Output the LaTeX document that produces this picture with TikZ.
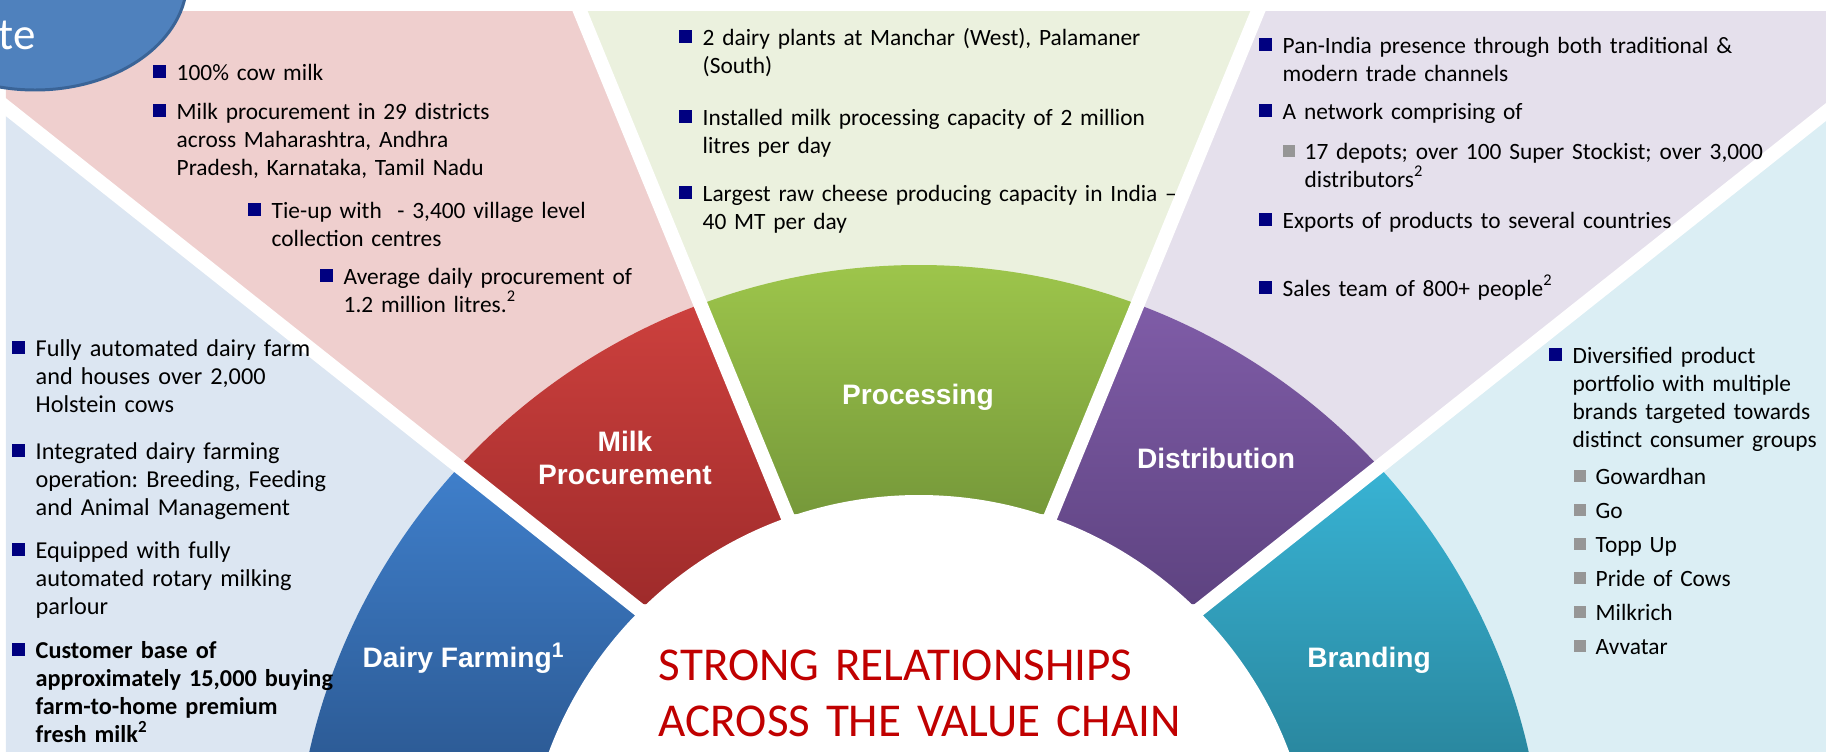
\documentclass[tikz,border=0pt]{standalone}
\usepackage{fontspec}
\setmainfont{Carlito}
\newfontfamily\segfont{Liberation Sans}
\usetikzlibrary{positioning}
\frenchspacing

\definecolor{bgblue}{HTML}{DCE6F2}
\definecolor{bgpink}{HTML}{EFCFCE}
\definecolor{bggreen}{HTML}{EBF1DE}
\definecolor{bglilac}{HTML}{E5E0EC}
\definecolor{bgteal}{HTML}{DBEEF4}
\definecolor{farmtop}{HTML}{3F7FCB}
\definecolor{farmbot}{HTML}{2D5C97}
\definecolor{milktop}{HTML}{CC403D}
\definecolor{milkbot}{HTML}{9F2B2B}
\definecolor{proctop}{HTML}{9DC54B}
\definecolor{procbot}{HTML}{76993A}
\definecolor{disttop}{HTML}{7F5CA7}
\definecolor{distbot}{HTML}{5E4381}
\definecolor{brandtop}{HTML}{38B3D4}
\definecolor{brandbot}{HTML}{2A88A0}
\definecolor{navy}{HTML}{000080}
\definecolor{subgray}{HTML}{969696}
\definecolor{titlered}{HTML}{C00000}
\definecolor{capblue}{HTML}{4F81BD}
\definecolor{capline}{HTML}{3A6497}

\newcommand{\txtsize}{6.65}
\tikzstyle{txt}=[anchor=base west, inner sep=0pt, text width=6cm, align=left,
  font=\fontsize{\txtsize}{8.05}\selectfont]
\tikzstyle{seglabel}=[anchor=base, inner sep=0pt, text=white,
  font=\segfont\bfseries\fontsize{8}{9.4}\selectfont]
\tikzstyle{gap}=[draw=white, line width=0.14cm]
\newcommand{\bpoint}[3]{\node[txt] (#1) at (#2) {#3};
  \fill[navy] ([shift={(-23,-15)}]#1.base west) rectangle +(13,13);}
\newcommand{\spoint}[3]{\node[txt] (#1) at (#2) {#3};
  \fill[subgray] ([shift={(-21,-14)}]#1.base west) rectangle +(12,12);}
\newcommand{\segment}[5]{%
  \begin{scope}
    \clip #1;
    \clip (c) circle[radius=625];
    \shade[top color=#4, bottom color=#5] (0,#2) rectangle (1826,#3);
  \end{scope}}

\begin{document}
\begin{tikzpicture}[x=0.01cm, y=-0.01cm]
\useasboundingbox (0,0) rectangle (1826,754);
% centre of the fan and the gap lines
\coordinate (c) at (919,890);
\coordinate (a0) at (-20,86.6);
\coordinate (a1) at (700,658);
\coordinate (ab) at (915.7,828.7);
\coordinate (b0) at (575.5,0);
\coordinate (b1) at (800,547);
\coordinate (bc) at (919,836.4);
\coordinate (c0) at (1262.5,0);
\coordinate (c1) at (1038,547);
\coordinate (cd) at (922.3,828.7);
\coordinate (d0) at (1858,86.6);
\coordinate (d1) at (1138,658);

% background wedges
\begin{scope}
\clip (6,11) rectangle (1826,752);
\fill[bgblue] (a0) -- (ab) -- (915.7,1000) -- (-20,1000) -- cycle;
\fill[bgpink] (-20,0) -- (b0) -- (ab) -- (a0) -- cycle;
\fill[bggreen] (b0) -- (c0) -- (bc) -- cycle;
\fill[bglilac] (c0) -- (1858,0) -- (d0) -- (cd) -- cycle;
\fill[bgteal] (d0) -- (cd) -- (922.3,1000) -- (1858,1000) -- cycle;
\end{scope}

% value chain segments
\segment{(a0) -- (ab) -- (915.7,1000) -- (-20,1000) -- cycle}{468}{752}{farmtop}{farmbot}
\segment{(-20,0) -- (b0) -- (ab) -- (a0) -- cycle}{306}{603}{milktop}{milkbot}
\segment{(b0) -- (c0) -- (bc) -- cycle}{265}{513}{proctop}{procbot}
\segment{(c0) -- (1858,0) -- (d0) -- (cd) -- cycle}{306}{603}{disttop}{distbot}
\segment{(d0) -- (cd) -- (922.3,1000) -- (1858,1000) -- cycle}{468}{752}{brandtop}{brandbot}
\fill[white] (c) circle[radius=395];
\fill[white] (0,752) rectangle (1826,760);
\draw[gap] (a0) -- (a1);
\draw[gap] (b0) -- (b1);
\draw[gap] (c0) -- (c1);
\draw[gap] (d0) -- (d1);

% segment labels
\node[seglabel] (farm) at (464,667) {Dairy Farming\textsuperscript{\fontsize{6}{6}\selectfont 1}};
\node[seglabel] (milk) at (625,451) {Milk};
\node[seglabel] (procure) at (625,484) {Procurement};
\node[seglabel] (process) at (918,404) {Processing};
\node[seglabel] (distrib) at (1216,468) {Distribution};
\node[seglabel] (brand) at (1369,667) {Branding};

% milk procurement
\bpoint{pk1}{176,80}{100\% cow milk}
\bpoint{pk2}{176,119}{Milk procurement in 29 districts\\across Maharashtra, Andhra\\Pradesh, Karnataka, Tamil Nadu}
\bpoint{pk3}{271,218}{Tie-up with \ - 3,400 village level\\collection centres}
\bpoint{pk4}{343,284}{Average daily procurement of\\1.2 million litres.\textsuperscript{2}}

% processing
\bpoint{pr1}{702,45}{2 dairy plants at Manchar (West), Palamaner\\(South)}
\bpoint{pr2}{702,125}{Installed milk processing capacity of 2 million\\litres per day}
\bpoint{pr3}{702,201}{Largest raw cheese producing capacity in India --\\40 MT per day}

% distribution
\bpoint{ds1}{1282,53}{Pan-India presence through both traditional \&\\modern trade channels}
\bpoint{ds2}{1282,119}{A network comprising of}
\spoint{ds3}{1304,159}{17 depots; over 100 Super Stockist; over 3,000\\distributors\textsuperscript{2}}
\bpoint{ds4}{1282,228}{Exports of products to several countries}
\bpoint{ds5}{1282,296}{Sales team of 800+ people\textsuperscript{2}}

% dairy farming
\begin{scope}
\renewcommand{\txtsize}{6.9}
\bpoint{df1}{35,356}{Fully automated dairy farm\\and houses over 2,000\\Holstein cows}
\bpoint{df2}{35,459}{Integrated dairy farming\\operation: Breeding, Feeding\\and Animal Management}
\bpoint{df3}{35,558}{Equipped with fully\\automated rotary milking\\parlour}
\bpoint{df4}{35,658}{\bfseries Customer base of\\approximately 15,000 buying\\farm-to-home premium\\fresh milk\textsuperscript{2}}
\end{scope}

% branding
\bpoint{br0}{1572,363}{Diversified product\\portfolio with multiple\\brands targeted towards\\distinct consumer groups}
\foreach \name/\y [count=\i] in {Gowardhan/484, Go/518, Topp Up/552, Pride of Cows/586, Milkrich/620, Avvatar/654}
  {\spoint{br\i}{1595,\y}{\name}}

% centre title
\node[anchor=base west, inner sep=0pt, text width=9cm, align=left, text=titlered,
  font=\fontsize{13.4}{16.2}\selectfont] (title) at (658,680)
  {STRONG RELATIONSHIPS\\ACROSS THE VALUE CHAIN};

% heading ellipse, cut by the page
\fill[capblue, draw=capline, line width=0.85pt] (35,-20) ellipse[x radius=152, y radius=110];
\node[anchor=base west, inner sep=0pt, text=white, font=\fontsize{12.8}{14}\selectfont]
  (heading) at (-2,49) {te};
\end{tikzpicture}
\end{document}
